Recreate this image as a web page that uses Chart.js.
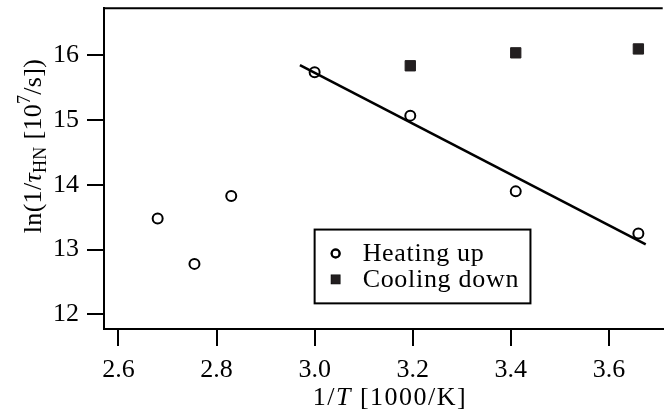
<!DOCTYPE html>
<html>
<head>
<meta charset="utf-8">
<script src="https://cdn.jsdelivr.net/npm/chart.js@4.4.1/dist/chart.umd.min.js"></script>
<style>
  html, body { margin: 0; padding: 0; background: #fff; overflow: hidden; }
  canvas { display: block; }
</style>
</head>
<body>
<!-- a few px wider than the window: the plot runs off the right edge, like the reference -->
<canvas id="chart" width="671" height="414"></canvas>
<script>
// values
const heatX = [2.68, 2.755, 2.83, 3.0, 3.195, 3.41, 3.66];
const heatY = [13.48, 12.78, 13.83, 15.74, 15.07, 13.90, 13.25];
const coolX = [3.195, 3.41, 3.66];
const coolY = [15.84, 16.04, 16.10];
const fitX = [2.97, 3.675];
const fitY = [15.85, 13.08];
const xTicks = [2.6, 2.8, 3.0, 3.2, 3.4, 3.6];
const yTicks = [12, 13, 14, 15, 16];
const seriesLabels = ['Heating up', 'Cooling down'];

const SERIF = "'Liberation Serif', 'Times New Roman', serif";
const toPoints = (xs, ys) => xs.map((x, i) => ({ x, y: ys[i] }));

// draws a title made of runs with different fonts / offsets (sub- and superscripts)
function drawRich(ctx, parts, cx, cy, angle, spacing) {
    ctx.save();
    ctx.translate(cx, cy);
    ctx.rotate(angle);
    ctx.fillStyle = '#000';
    ctx.textAlign = 'left';
    ctx.textBaseline = 'alphabetic';
    ctx.letterSpacing = (spacing || 0) + 'px';
    let total = 0;
    parts.forEach(p => {
        ctx.font = p.font;
        p.w = ctx.measureText(p.text).width;
        total += p.w;
    });
    let x = -total / 2;
    parts.forEach(p => {
        ctx.font = p.font;
        ctx.fillText(p.text, x, p.dy || 0);
        x += p.w;
    });
    ctx.restore();
}

const frameAndTitles = {
    id: 'frameAndTitles',
    afterDraw(chart) {
        const { ctx, chartArea } = chart;
        // top edge of the frame
        ctx.save();
        ctx.strokeStyle = '#000';
        ctx.lineWidth = 2;
        ctx.beginPath();
        ctx.moveTo(chartArea.left - 1, chartArea.top);
        ctx.lineTo(chartArea.right, chartArea.top);
        ctx.stroke();
        ctx.restore();

        const reg = `26px ${SERIF}`;
        const ital = `italic 26px ${SERIF}`;
        const small = `18px ${SERIF}`;

        drawRich(ctx, [
            { text: 'ln(1/', font: reg },
            { text: 'τ', font: ital },
            { text: 'HN', font: small, dy: 5 },
            { text: ' [10', font: reg },
            { text: '7', font: small, dy: -11 },
            { text: '/s])', font: reg }
        ], 41, 146, -Math.PI / 2, 0.3);

        drawRich(ctx, [
            { text: '1/', font: reg },
            { text: 'T', font: ital },
            { text: ' [1000/K]', font: reg }
        ], 390, 405, 0, 1.5);
    }
};

const boxLegend = {
    id: 'boxLegend',
    afterDatasetsDraw(chart, args, opts) {
        const { ctx, scales } = chart;
        const left = scales.x.getPixelForValue(opts.from[0]);
        const top = scales.y.getPixelForValue(opts.from[1]);
        const right = scales.x.getPixelForValue(opts.to[0]);
        const bottom = scales.y.getPixelForValue(opts.to[1]);
        ctx.save();
        ctx.fillStyle = '#fff';
        ctx.fillRect(left, top, right - left, bottom - top);
        ctx.strokeStyle = '#000';
        ctx.lineWidth = 2;
        ctx.strokeRect(left, top, right - left, bottom - top);

        const rowH = 26;
        const firstY = (top + bottom) / 2 - rowH / 2;
        ctx.font = `26px ${SERIF}`;
        ctx.letterSpacing = '0.7px';
        ctx.textBaseline = 'middle';
        ctx.textAlign = 'left';
        [0, 1].forEach(i => {
            const ds = chart.data.datasets[i];
            const y = firstY + i * rowH;
            Chart.helpers.drawPoint(ctx, {
                pointStyle: ds.pointStyle,
                radius: i === 0 ? 4 : 5.5,
                borderWidth: i === 0 ? 2 : 1,
                rotation: 0
            }, left + 21, y);
            ctx.fillStyle = ds.backgroundColor;
            ctx.strokeStyle = ds.borderColor;
            ctx.lineWidth = i === 0 ? 2 : 1;
            if (i === 1) ctx.fill();
            ctx.stroke();
            ctx.fillStyle = '#000';
            ctx.fillText(ds.label, left + 48, y + 1);
        });
        ctx.restore();
    }
};

const axisStyle = {
    grid: { drawOnChartArea: false, drawTicks: true, tickLength: 17, color: '#000', lineWidth: 2 },
    border: { color: '#000', width: 2 }
};

new Chart(document.getElementById('chart').getContext('2d'), {
    type: 'scatter',
    data: {
        datasets: [
            {
                label: seriesLabels[0],
                data: toPoints(heatX, heatY),
                pointStyle: 'circle',
                pointRadius: 5,
                pointBorderWidth: 2,
                borderColor: '#000',
                backgroundColor: 'rgba(0,0,0,0)',
                order: 1
            },
            {
                label: seriesLabels[1],
                data: toPoints(coolX, coolY),
                pointStyle: 'rect',
                pointRadius: 7.3,
                pointBorderWidth: 1,
                borderColor: '#231f20',
                backgroundColor: '#231f20',
                order: 1
            },
            {
                label: 'fit',
                type: 'line',
                data: toPoints(fitX, fitY),
                borderColor: '#000',
                borderWidth: 2.6,
                pointRadius: 0,
                fill: false,
                order: 2
            }
        ]
    },
    options: {
        responsive: false,
        animation: false,
        events: [],
        layout: { padding: { top: 7, right: 0, bottom: 0, left: 0 } },
        plugins: {
            legend: { display: false },
            tooltip: { enabled: false },
            boxLegend: { from: [3.0, 13.31], to: [3.44, 12.17] }
        },
        scales: {
            x: {
                type: 'linear',
                min: 2.5706,
                max: 3.7096,
                afterBuildTicks: s => { s.ticks = xTicks.map(v => ({ value: v })); },
                afterFit: s => { s.height = 85; s.paddingLeft = 0; s.paddingRight = 0; },
                ...axisStyle,
                ticks: {
                    color: '#000',
                    font: { family: SERIF, size: 26 },
                    padding: 9,
                    maxRotation: 0,
                    callback: v => v.toFixed(1)
                }
            },
            y: {
                type: 'linear',
                min: 11.774,
                max: 16.728,
                afterBuildTicks: s => { s.ticks = yTicks.map(v => ({ value: v })); },
                afterFit: s => { s.width = 104; s.paddingTop = 0; s.paddingBottom = 0; },
                ...axisStyle,
                ticks: {
                    color: '#000',
                    font: { family: SERIF, size: 26 },
                    padding: 8,
                    callback: v => String(v)
                }
            }
        }
    },
    plugins: [boxLegend, frameAndTitles]
});
</script>
</body>
</html>
